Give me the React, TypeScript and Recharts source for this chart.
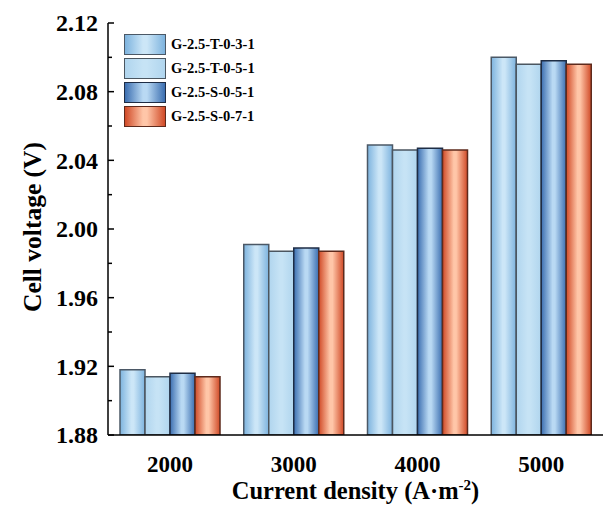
import { BarChart, Bar, XAxis, YAxis, Legend, Label } from "recharts";

const densities = ["2000", "3000", "4000", "5000"];
const t031 = [1.918, 1.991, 2.049, 2.1];
const t051 = [1.914, 1.987, 2.046, 2.096];
const s051 = [1.916, 1.989, 2.047, 2.098];
const s071 = [1.914, 1.987, 2.046, 2.096];
const seriesNames = ["G-2.5-T-0-3-1", "G-2.5-T-0-5-1", "G-2.5-S-0-5-1", "G-2.5-S-0-7-1"];
const majorTicks = [1.88, 1.92, 1.96, 2.0, 2.04, 2.08, 2.12];
const minorTicks = [1.9, 1.94, 1.98, 2.02, 2.06, 2.1];

const data = densities.map((d, i) => ({
  density: d,
  t031: t031[i],
  t051: t051[i],
  s051: s051[i],
  s071: s071[i],
}));

const FONT = "'Liberation Serif', 'Times New Roman', serif";

// edge / centre colours of each bar's horizontal shading
const series = [
  { key: "t031", name: seriesNames[0], id: "gT031", edge: "#7db3de", mid: "#cce6f7", stroke: "#4b5866" },
  { key: "t051", name: seriesNames[1], id: "gT051", edge: "#b0d5ee", mid: "#c6e3f5", stroke: "#4b5660" },
  { key: "s051", name: seriesNames[2], id: "gS051", edge: "#3b6eb0", mid: "#b9d9f3", stroke: "#1e2d45" },
  { key: "s071", name: seriesNames[3], id: "gS071", edge: "#d04a27", mid: "#ffc6a8", stroke: "#5e2a1c" },
];

const allTicks = [...majorTicks, ...minorTicks].sort((a, b) => a - b);
const isMajor = (v: number) => majorTicks.some((t) => Math.abs(t - v) < 1e-6);

function YTick(props: any) {
  const { x, y, payload } = props;
  const major = isMajor(payload.value);
  return (
    <g>
      <line x1={x + 10} x2={x + 10 + (major ? 6 : 4)} y1={y} y2={y} stroke="#000" strokeWidth={1.5} />
      {major && (
        <text x={x} y={y} dy="0.35em" textAnchor="end" fontFamily={FONT} fontWeight="bold" fontSize={24} fill="#000">
          {payload.value.toFixed(2)}
        </text>
      )}
    </g>
  );
}

function XTick(props: any) {
  const { x, y, payload } = props;
  return (
    <text x={x} y={y} dy={19} textAnchor="middle" fontFamily={FONT} fontWeight="bold" fontSize={23} fill="#000">
      {payload.value}
    </text>
  );
}

function LegendBox() {
  return (
    <div style={{ fontFamily: FONT, fontWeight: "bold", fontSize: 14.5 }}>
      {series.map((s) => (
        <div key={s.key} style={{ display: "flex", alignItems: "center", height: 24 }}>
          <div
            style={{
              width: 40,
              height: 19,
              border: `1.5px solid ${s.stroke}`,
              background: `linear-gradient(to right, ${s.edge}, ${s.mid} 45%, ${s.mid} 55%, ${s.edge})`,
            }}
          />
          <span style={{ marginLeft: 5, color: "#000" }}>{s.name}</span>
        </div>
      ))}
    </div>
  );
}

export default function App() {
  return (
    <div style={{ position: "absolute", left: 0, top: 0, background: "#fff" }}>
      <BarChart
        width={606}
        height={505}
        data={data}
        margin={{ top: 23, right: 3, left: 0, bottom: 0 }}
        barCategoryGap={12}
        barGap={0}
      >
        <defs>
          {series.map((s) => (
            <linearGradient key={s.id} id={s.id} x1="0" y1="0" x2="1" y2="0">
              <stop offset="0%" stopColor={s.edge} />
              <stop offset="45%" stopColor={s.mid} />
              <stop offset="55%" stopColor={s.mid} />
              <stop offset="100%" stopColor={s.edge} />
            </linearGradient>
          ))}
        </defs>
        <XAxis
          dataKey="density"
          height={70}
          tickLine={false}
          tickSize={0}
          tickMargin={18}
          axisLine={{ stroke: "#000", strokeWidth: 1.5 }}
          tick={(p: any) => <XTick {...p} />}
        >
          <Label
            content={(p: any) => {
              const vb = p.viewBox;
              return (
                <text
                  x={vb.x + vb.width / 2}
                  y={vb.y + 64}
                  textAnchor="middle"
                  fontFamily={FONT}
                  fontWeight="bold"
                  fontSize={24.5}
                  fill="#000"
                >
                  Current density (A·m
                  <tspan dy={-9} fontSize={15}>-2</tspan>
                  <tspan dy={9}>)</tspan>
                </text>
              );
            }}
          />
        </XAxis>
        <XAxis
          xAxisId="top"
          dataKey="density"
          orientation="top"
          height={0}
          tick={false}
          tickLine={false}
          axisLine={{ stroke: "#888", strokeWidth: 1.5 }}
        />
        <YAxis
          width={108}
          domain={[1.88, 2.12]}
          ticks={allTicks}
          interval={0}
          allowDataOverflow
          tickLine={false}
          tickSize={0}
          tickMargin={10}
          axisLine={{ stroke: "#000", strokeWidth: 1.5 }}
          tick={(p: any) => <YTick {...p} />}
        >
          <Label
            content={(p: any) => {
              const vb = p.viewBox;
              const cx = vb.x + 32;
              const cy = vb.y + vb.height / 2 - 2;
              return (
                <text
                  x={cx}
                  y={cy}
                  transform={`rotate(-90, ${cx}, ${cy})`}
                  textAnchor="middle"
                  dominantBaseline="central"
                  fontFamily={FONT}
                  fontWeight="bold"
                  fontSize={25.5}
                  fill="#000"
                >
                  Cell voltage (V)
                </text>
              );
            }}
          />
        </YAxis>
        <YAxis
          yAxisId="right"
          orientation="right"
          width={0}
          domain={[0, 1]}
          type="number"
          tick={false}
          tickLine={false}
          axisLine={{ stroke: "#888", strokeWidth: 1.5 }}
        />
        <Legend
          layout="horizontal"
          verticalAlign="middle"
          align="center"
          wrapperStyle={{ left: 124, top: 32, width: "auto" }}
          content={() => <LegendBox />}
        />
        {series.map((s) => (
          <Bar
            key={s.key}
            dataKey={s.key}
            name={s.name}
            fill={`url(#${s.id})`}
            stroke={s.stroke}
            strokeWidth={1.5}
            isAnimationActive={false}
          />
        ))}
      </BarChart>
    </div>
  );
}
